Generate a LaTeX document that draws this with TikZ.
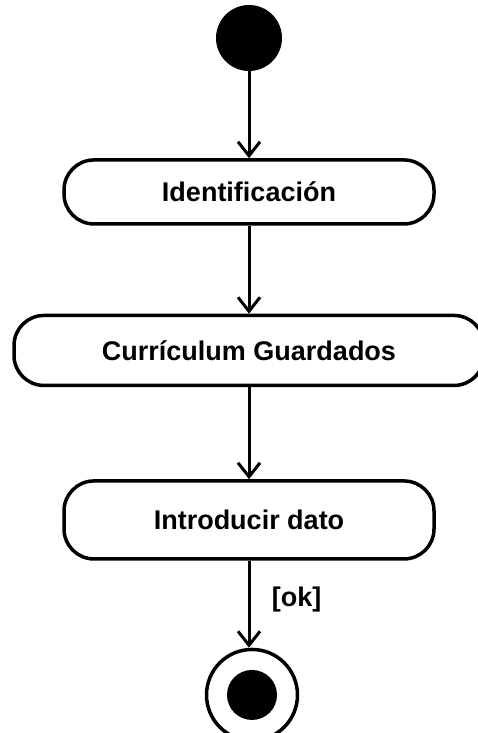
\documentclass[tikz,border=0pt]{standalone}
\usepackage{fontspec}
\setmainfont{Liberation Sans}
\usepackage{tikz}
\usetikzlibrary{arrows.meta, positioning}

\begin{document}
\begin{tikzpicture}[node distance=88pt,
    every node/.style={font=\bfseries\fontsize{27}{30}\selectfont},
    actividad/.style={draw, line width=3.5pt, rounded corners=30pt, minimum width=370pt, minimum height=64pt},
    flujo/.style={line width=3pt, -{Straight Barb[length=14pt, width=22pt]}}]
    \useasboundingbox (0,0) rectangle (478pt,-733pt);

    % Inicio
    \node[circle, fill, minimum size=66pt, inner sep=0pt] (inicio) at (249pt,-38pt) {};

    % Actividades
    \node[actividad, below=87pt of inicio] (ident) {Identificación};
    \node[actividad, below=88pt of ident, minimum width=470pt, minimum height=70pt] (curri) {Currículum Guardados};
    \node[actividad, below=92pt of curri, minimum height=78pt] (dato) {Introducir dato};

    % Fin
    \node[circle, draw, line width=3.5pt, minimum size=91pt, inner sep=0pt, below=87pt of dato, xshift=3pt] (fin) {};
    \node[circle, fill, minimum size=50pt, inner sep=0pt] (finpunto) at (fin) {};

    % Flujos
    \draw[flujo] (inicio) -- (ident);
    \draw[flujo] (ident) -- (curri);
    \draw[flujo] (curri) -- (dato);
    \draw[flujo] (dato.south) -- node[pos=0.45, right=18pt] (guarda) {[ok]} (fin.north -| dato.south);
\end{tikzpicture}
\end{document}
